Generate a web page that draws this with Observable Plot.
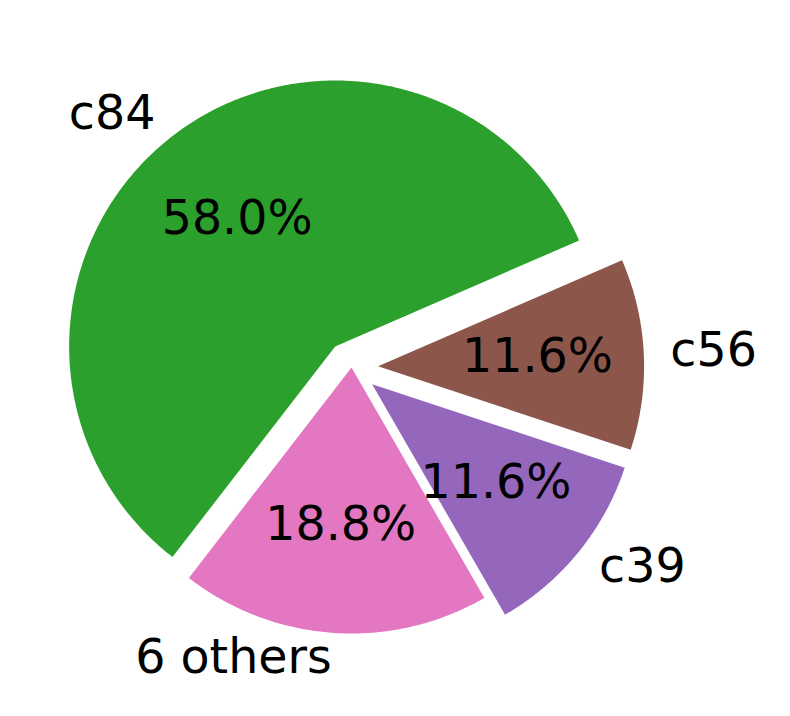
<!DOCTYPE html>
<html>
<head>
<meta charset="utf-8">
<script src="https://cdn.jsdelivr.net/npm/d3@7"></script>
<script src="https://cdn.jsdelivr.net/npm/@observablehq/plot@0.6"></script>
<style>
  html, body { margin: 0; padding: 0; background: #fff; }
</style>
</head>
<body>
<div id="chart"></div>
<script>
const labels = ["c84", "6 others", "c39", "c56"];
const values = [58.0, 18.8, 11.6, 11.6];
const colors = ["#2ca02c", "#e377c2", "#9467bd", "#8c564b"];
const explode = [0.1, 0, 0.1, 0.1];
const startAngle = 23.5; // degrees, counterclockwise from 3 o'clock

const total = d3.sum(values);
const rad = Math.PI / 180;
const polys = [];
const labelRows = [];
const pctRows = [];
let a = startAngle;
values.forEach((v, i) => {
  const span = 360 * v / total;
  const a0 = a, a1 = a + span;
  const mid = (a0 + a1) / 2 * rad;
  const cx = explode[i] * Math.cos(mid);
  const cy = explode[i] * Math.sin(mid);
  polys.push({label: labels[i], color: colors[i], x: cx, y: cy});
  const n = Math.max(2, Math.ceil(span * 2));
  for (let k = 0; k <= n; k++) {
    const t = (a0 + (a1 - a0) * k / n) * rad;
    polys.push({label: labels[i], color: colors[i], x: cx + Math.cos(t), y: cy + Math.sin(t)});
  }
  polys.push({label: labels[i], color: colors[i], x: cx, y: cy});
  labelRows.push({text: labels[i], x: cx + 1.1 * Math.cos(mid), y: cy + 1.1 * Math.sin(mid), right: Math.cos(mid) >= 0});
  pctRows.push({text: (100 * v / total).toFixed(1) + "%", x: cx + 0.6 * Math.cos(mid), y: cy + 0.6 * Math.sin(mid)});
  a = a1;
});

const W = 790, H = 716, R = 266, CX = 351, CY = 367;
const FS = 47.5;
const chart = Plot.plot({
  width: W,
  height: H,
  margin: 0,
  x: {domain: [-CX / R, (W - CX) / R], axis: null},
  y: {domain: [-(H - CY) / R, CY / R], axis: null},
  style: {fontFamily: "DejaVu Sans", background: "#fff"},
  marks: [
    Plot.line(polys, {x: "x", y: "y", z: "label", fill: d => d.color, stroke: "none", curve: "linear"}),
    Plot.text(labelRows.filter(d => d.right), {x: "x", y: "y", text: "text", textAnchor: "start", fontSize: FS, fill: "black", dy: -2}),
    Plot.text(labelRows.filter(d => !d.right), {x: "x", y: "y", text: "text", textAnchor: "end", fontSize: FS, fill: "black", dy: -2}),
    Plot.text(pctRows, {x: "x", y: "y", text: "text", textAnchor: "middle", fontSize: FS, fill: "black", dy: -2})
  ]
});
document.getElementById("chart").appendChild(chart);
</script>
</body>
</html>
